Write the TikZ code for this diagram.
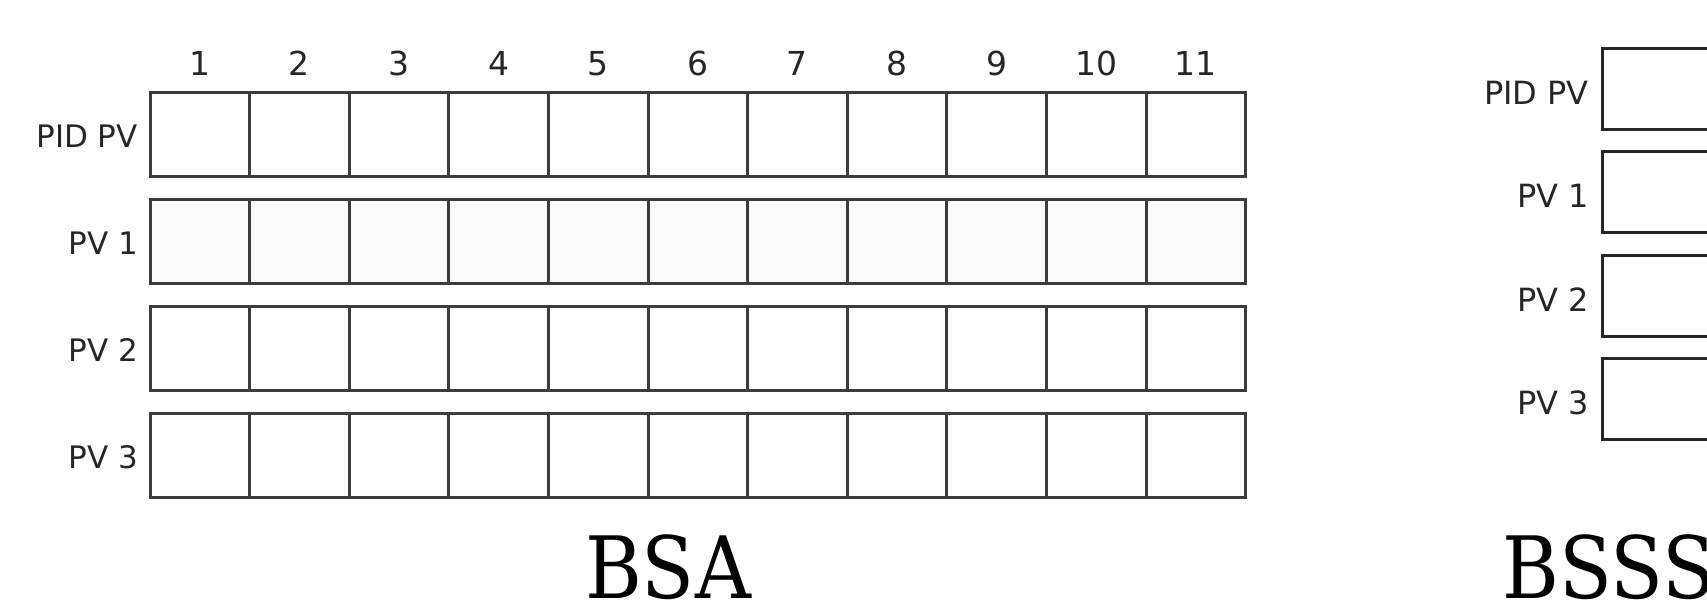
\documentclass[tikz,border=0pt]{standalone}
\usepackage{fontspec}
\setmainfont{DejaVu Sans}
\newfontfamily\serifx{DejaVu Serif}
\usepackage{graphicx}
\definecolor{lineg}{RGB}{60,60,60}
\definecolor{rowfill}{RGB}{250,250,250}
\begin{document}
\begin{tikzpicture}[x=1pt,y=-1pt,
  cell/.style={draw=lineg, line width=3pt, minimum width=99.6pt, minimum height=84pt, inner sep=0pt, outer sep=0pt},
  rbox/.style={draw=black!85, line width=3pt, minimum width=140pt, minimum height=81pt, inner sep=0pt, outer sep=0pt, anchor=west, fill=white},
  hdr/.style={font=\fontsize{33}{40}\selectfont, text=black!85, inner sep=0pt},
  rowlab/.style={font=\fontsize{31}{38}\selectfont, text=black!85, inner sep=0pt, anchor=east},
  rlab/.style={font=\fontsize{32}{38}\selectfont, text=black!85, inner sep=0pt, anchor=east},
  title/.style={font=\serifx\fontsize{86}{100}\selectfont, inner sep=0pt}]
\clip (0,0) rectangle (1707,611);
\fill[white] (0,0) rectangle (1707,611);
% left panel: rows of 11 cells
\foreach \r/\lab in {0/PID PV, 1/PV 1, 2/PV 2, 3/PV 3} {
  \node[rowlab] (l\r) at (138, {136+107*\r}) {\lab};
  \foreach \k in {1,...,11} {
    \ifnum\r=1
      \node[cell, fill=rowfill] (a\r-\k) at ({150+99.6*(\k-0.5)}, {134+107*\r}) {};
    \else
      \node[cell, fill=white] (a\r-\k) at ({150+99.6*(\k-0.5)}, {134+107*\r}) {};
    \fi
  }
}
% column numbers
\foreach \k in {1,...,11} {
  \node[hdr, anchor=base] (h\k) at ({150+99.6*(\k-0.5)}, 75) {\k};
}
\node[title, anchor=base] (bsa) at (668, 598) {\scalebox{0.9}[1]{BSA}};
% right panel
\foreach \r/\lab/\yc in {0/PID PV/88.5, 1/PV 1/192, 2/PV 2/295.5, 3/PV 3/399} {
  \node[rbox] (b\r) at (1602, \yc) {};
  \node[rlab] (m\r) at (1589, {\yc+4}) {\lab};
}
\node[title, anchor=base west] (bsss) at (1502, 598) {\scalebox{0.9}[1]{BSSS}};
\end{tikzpicture}
\end{document}
